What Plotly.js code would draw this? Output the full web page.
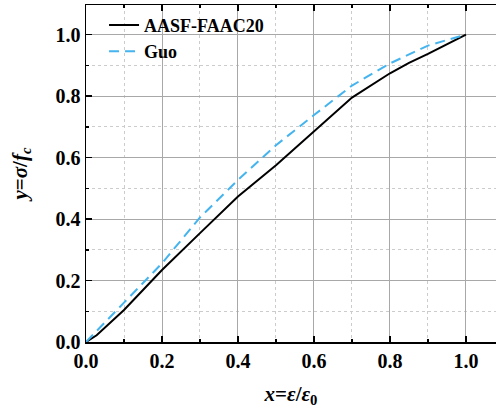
<!DOCTYPE html>
<html>
<head>
<meta charset="utf-8">
<script src="https://cdn.plot.ly/plotly-3.0.1.min.js"></script>
<style>html,body{margin:0;padding:0;background:#fff;}#chart{width:496px;height:408px;}</style>
</head>
<body>
<div id="chart"></div>
<script>
const seriesNames = ["AASF-FAAC20", "Guo"];
const aasfX = [0, 0.028, 0.1, 0.2, 0.3, 0.4, 0.5, 0.6, 0.7, 0.8, 0.85, 0.9, 1.0];
const aasfY = [0, 0.022, 0.104, 0.234, 0.354, 0.473, 0.575, 0.684, 0.795, 0.874, 0.908, 0.937, 1.0];
const guoX = [0, 0.05, 0.1, 0.2, 0.3, 0.4, 0.5, 0.6, 0.7, 0.8, 0.9, 1.0];
const guoY = [0, 0.065, 0.128, 0.256, 0.405, 0.527, 0.640, 0.738, 0.834, 0.906, 0.964, 1.0];

const serif = '"Liberation Serif", "Times New Roman", serif';
const traces = [
  {x: aasfX, y: aasfY, name: seriesNames[0], mode: "lines",
   line: {color: "#000000", width: 2}},
  {x: guoX, y: guoY, name: seriesNames[1], mode: "lines",
   line: {color: "#45B4EE", width: 2, dash: "10px,6px"}}
];
const axisCommon = {
  showline: true, linecolor: "#000", linewidth: 1.5,
  ticks: "inside", ticklen: 6, tickwidth: 1.5, tickcolor: "#000",
  showgrid: true, gridcolor: "#a8a8a8", gridwidth: 1,
  zeroline: false, dtick: 0.2, tick0: 0, tickformat: ".1f",
  tickfont: {family: serif, size: 20, color: "#000", weight: "bold"},
  minor: {dtick: 0.1, ticks: "inside", ticklen: 3, tickcolor: "#000",
          showgrid: true, gridcolor: "#cccccc", griddash: "dot", gridwidth: 1}
};
const layout = {
  width: 496, height: 408,
  margin: {l: 86, r: 0, t: 5, b: 66},
  paper_bgcolor: "#fff", plot_bgcolor: "#fff",
  showlegend: true,
  legend: {x: 0.044, y: 0.995, xanchor: "left", yanchor: "top",
           bgcolor: "rgba(0,0,0,0)", borderwidth: 0,
           font: {family: serif, size: 18, color: "#000", weight: "bold"},
           tracegroupgap: 0},
  xaxis: Object.assign({}, axisCommon, {
    range: [0, 1.079], mirror: "ticks",
    title: {text: "<i>x</i>=<i>ε</i>/<i>ε</i><sub>0</sub>", standoff: 16,
            font: {family: serif, size: 21, color: "#000", weight: "bold"}}
  }),
  yaxis: Object.assign({}, axisCommon, {
    range: [0, 1.096],
    title: {text: "<i>y</i>=<i>σ</i>/<i>f</i><sub><i>c</i></sub>", standoff: 22,
            font: {family: serif, size: 21, color: "#000", weight: "bold"}}
  })
};
Plotly.newPlot("chart", traces, layout, {staticPlot: true, displayModeBar: false});
</script>
</body>
</html>
